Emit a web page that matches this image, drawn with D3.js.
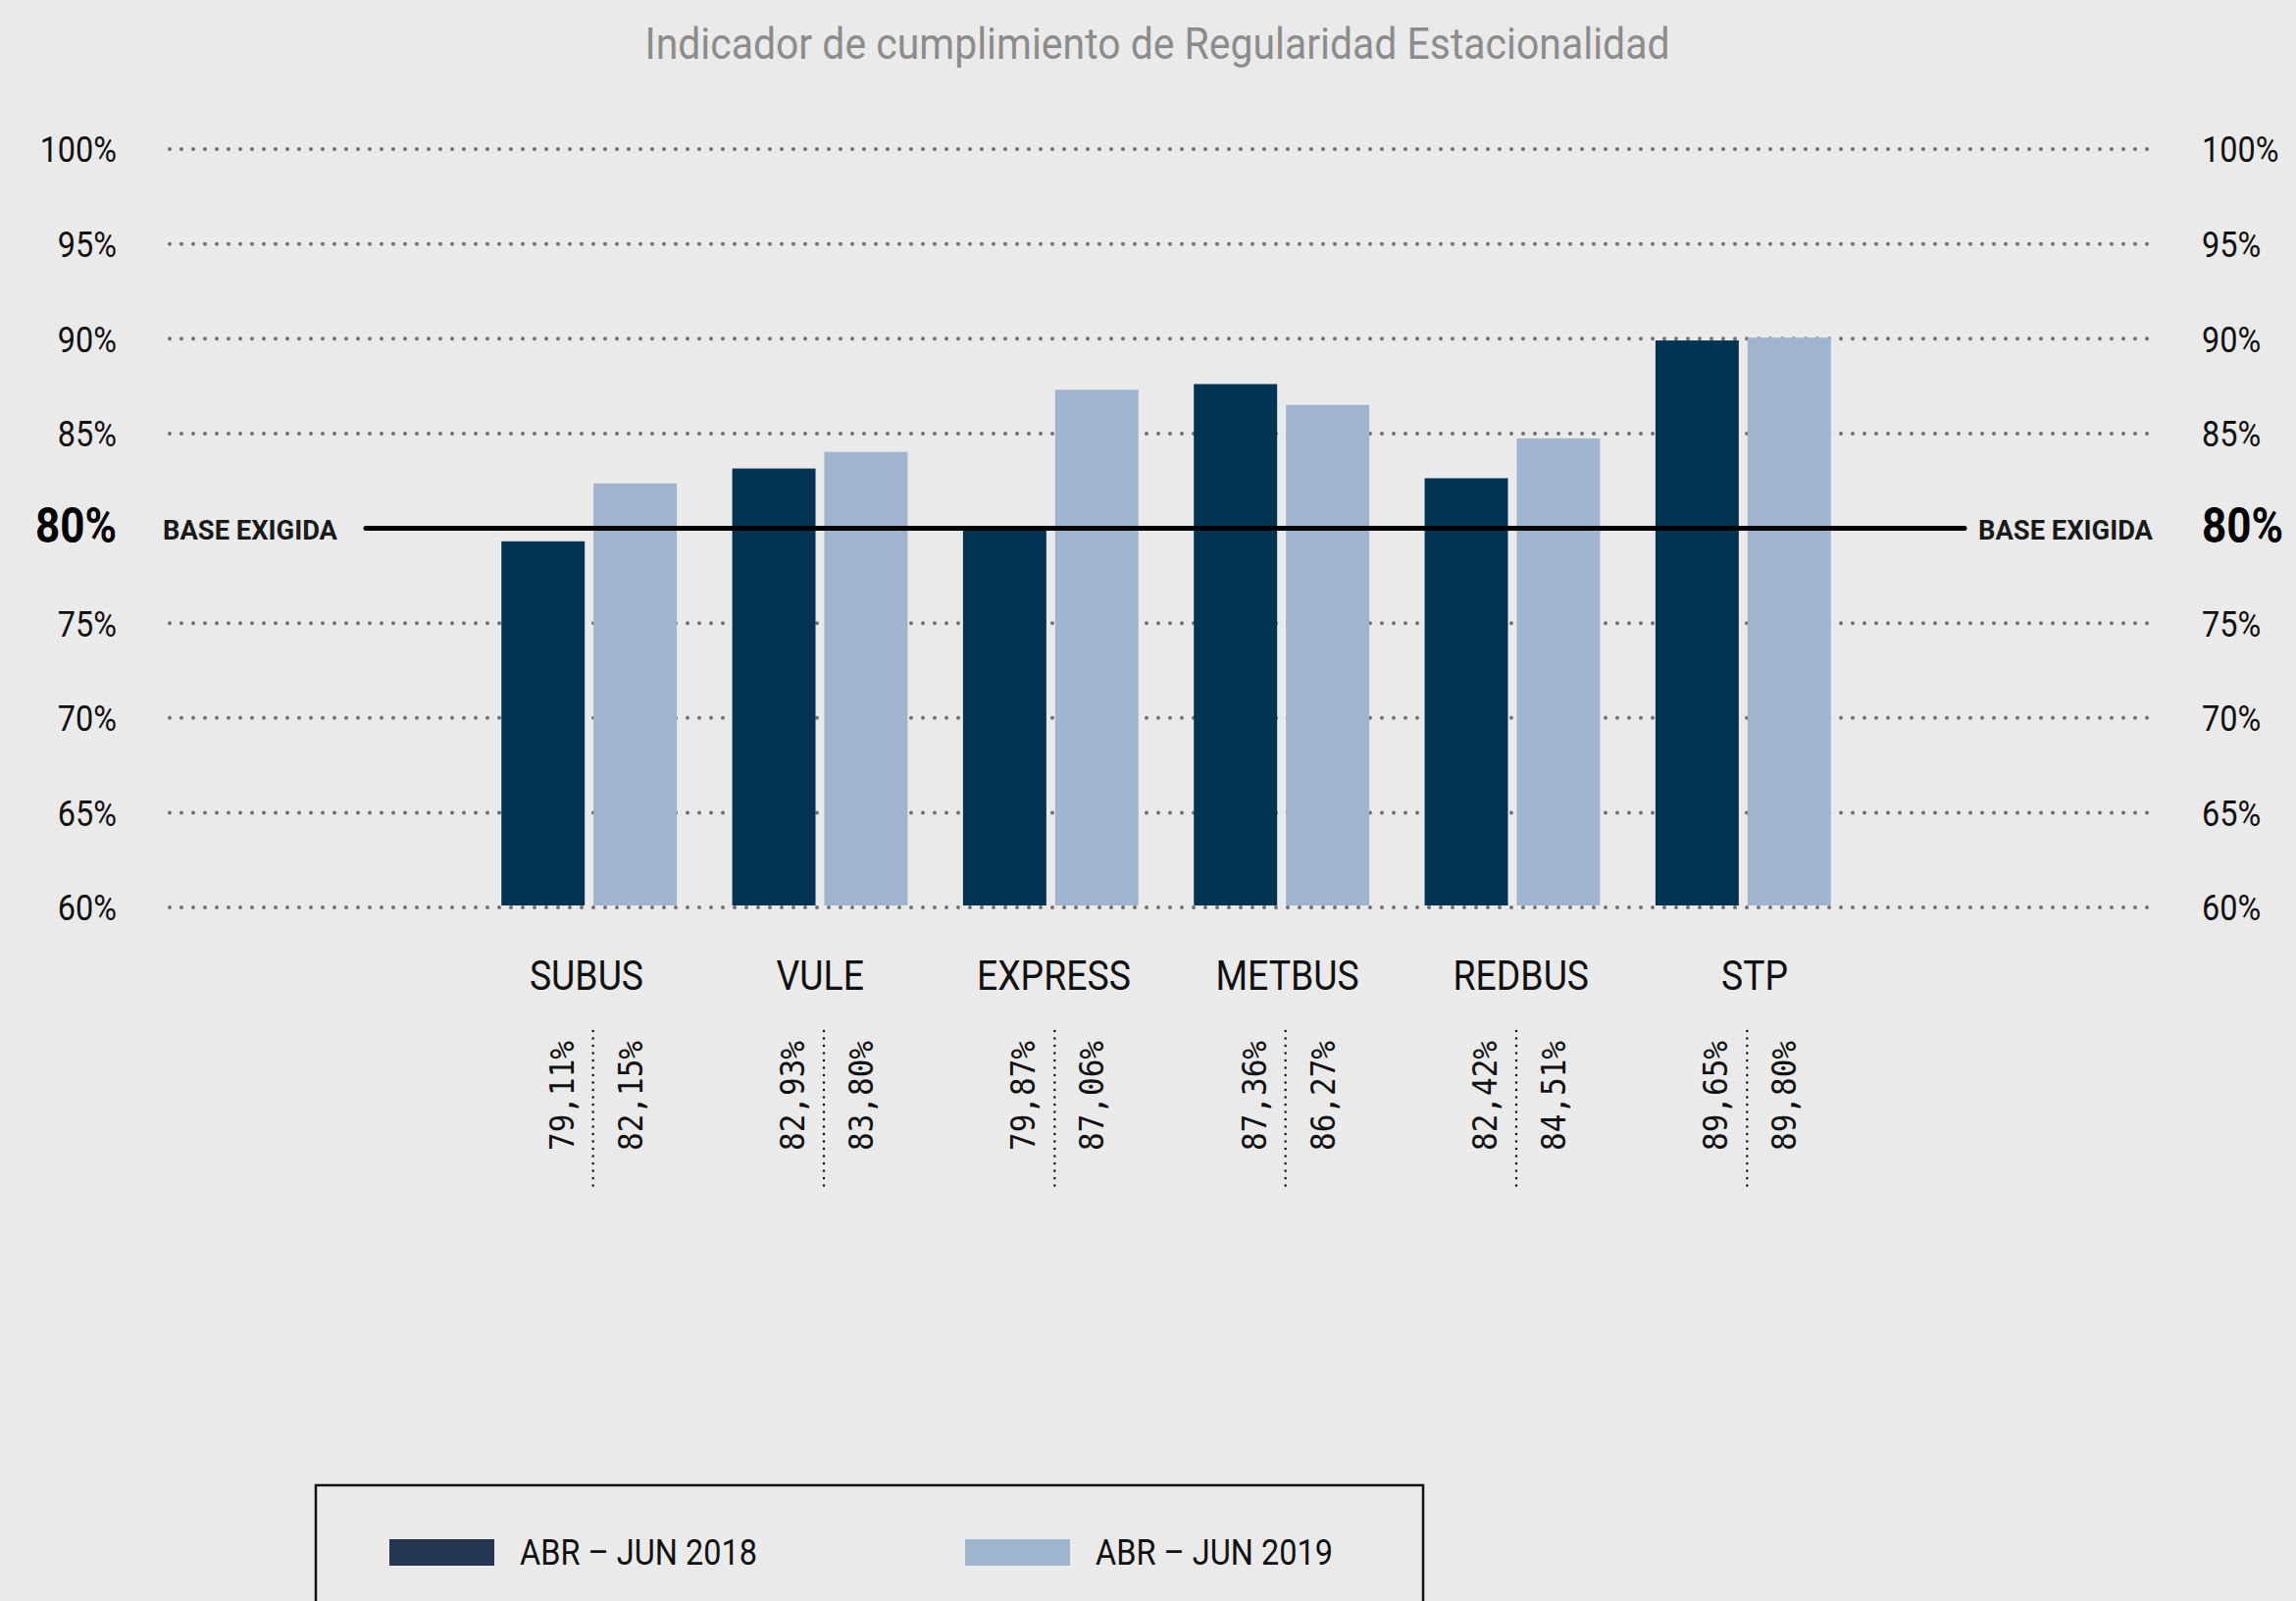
<!DOCTYPE html>
<html>
<head>
<meta charset="utf-8">
<script src="https://cdn.jsdelivr.net/npm/d3@7"></script>
<style>
  body { margin: 0; background: #eaeaea; }
  svg { display: block; }
  text { font-family: "Liberation Sans Narrow", "Roboto", sans-serif; }
</style>
</head>
<body>
<div id="chart"></div>
<script>
// data
const companies = ["SUBUS", "VULE", "EXPRESS", "METBUS", "REDBUS", "STP"];
const values2018 = [79.11, 82.93, 79.87, 87.36, 82.42, 89.65];
const values2019 = [82.15, 83.80, 87.06, 86.27, 84.51, 89.80];
const seriesNames = ["ABR – JUN 2018", "ABR – JUN 2019"];
const gridTicks = [60, 65, 70, 75, 85, 90, 95, 100];
const baseValue = 80;
const baseLabel = "BASE EXIGIDA";
const title = "Indicador de cumplimiento de Regularidad Estacionalidad";

const width = 2341;
const height = 1632;
const barColors = ["#003452", "#9fb4cf"];
const legendColors = ["#243652", "#9db5cd"];

// the original font is a condensed one, squeeze the fallback a bit
function condense(sel, factor) {
    sel.each(function() {
        const w = this.getComputedTextLength();
        d3.select(this)
            .attr("textLength", w * factor)
            .attr("lengthAdjust", "spacingAndGlyphs");
    });
}

const svg = d3.select("#chart")
    .append("svg")
    .attr("width", width)
    .attr("height", height);

svg.append("rect")
    .attr("width", width)
    .attr("height", height)
    .attr("fill", "#eaeaea");

// scales
const y = d3.scaleLinear().domain([60, 100]).range([925, 152]);
// bars sit a few px above the gridlines in the original
const yBar = d3.scaleLinear().domain([60, 100]).range([923, 146]);

const x = d3.scaleBand()
    .domain(companies)
    .range([483, 1895])
    .paddingInner(0.24)
    .paddingOuter(0.12);

const xSub = d3.scaleBand()
    .domain([0, 1])
    .range([0, x.bandwidth()])
    .paddingInner(0.0957);

// category names are spread a little wider than the bars
const xLabel = d3.scalePoint().domain(companies).range([598, 1789]);

const gridLeft = 173, gridRight = 2192;

// title
svg.append("text")
    .attr("x", 1180)
    .attr("y", 60)
    .attr("text-anchor", "middle")
    .attr("fill", "#8c8c8c")
    .style("font-size", "44px")
    .attr("textLength", 1045)
    .attr("lengthAdjust", "spacingAndGlyphs")
    .text(title);

// dotted gridlines
svg.append("g")
    .selectAll("line")
    .data(gridTicks)
    .join("line")
    .attr("x1", gridLeft)
    .attr("x2", gridRight)
    .attr("y1", d => y(d))
    .attr("y2", d => y(d))
    .attr("stroke", "#707070")
    .attr("stroke-width", 4)
    .attr("stroke-linecap", "round")
    .attr("stroke-dasharray", "0 12");

// tick labels both sides
const fmtTick = d => d + "%";
const leftAxis = d3.axisLeft(y).tickValues(gridTicks).tickFormat(fmtTick).tickSize(0).tickPadding(0);
const rightAxis = d3.axisRight(y).tickValues(gridTicks).tickFormat(fmtTick).tickSize(0).tickPadding(0);

svg.append("g").attr("transform", "translate(119,0)").call(leftAxis)
    .call(g => g.select(".domain").remove())
    .selectAll("text")
    .style("font-size", "36px")
    .style("font-family", "'Liberation Sans Narrow', Roboto, sans-serif")
    .attr("fill", "#111")
    .attr("dy", "0.36em")
    .call(condense, 0.9);

svg.append("g").attr("transform", "translate(2245,0)").call(rightAxis)
    .call(g => g.select(".domain").remove())
    .selectAll("text")
    .style("font-size", "36px")
    .style("font-family", "'Liberation Sans Narrow', Roboto, sans-serif")
    .attr("fill", "#111")
    .attr("dy", "0.36em")
    .call(condense, 0.9);

// bars
const series = [values2018, values2019];
const groups = svg.append("g")
    .selectAll("g")
    .data(companies)
    .join("g")
    .attr("transform", d => `translate(${x(d)},0)`);

groups.selectAll("rect")
    .data((d, i) => series.map((s, k) => ({ k, v: s[i] })))
    .join("rect")
    .attr("x", d => xSub(d.k))
    .attr("width", xSub.bandwidth())
    .attr("y", d => yBar(d.v))
    .attr("height", d => yBar(60) - yBar(d.v))
    .attr("fill", d => barColors[d.k]);

// base line
svg.append("line")
    .attr("x1", 373)
    .attr("x2", 2003)
    .attr("y1", y(baseValue))
    .attr("y2", y(baseValue))
    .attr("stroke", "#000")
    .attr("stroke-width", 5)
    .attr("stroke-linecap", "round");

[{ x: 119, anchor: "end" }, { x: 2245, anchor: "start" }].forEach(p => {
    svg.append("text")
        .attr("x", p.x)
        .attr("y", y(baseValue) + 14)
        .attr("text-anchor", p.anchor)
        .attr("font-weight", "bold")
        .style("font-size", "50px")
        .text(baseValue + "%")
        .call(condense, 0.88);
});

[{ x: 166 }, { x: 2017 }].forEach(p => {
    svg.append("text")
        .attr("x", p.x)
        .attr("y", y(baseValue) + 11)
        .attr("font-weight", "bold")
        .attr("fill", "#1a1a1a")
        .style("font-size", "27px")
        .attr("textLength", 178)
        .attr("lengthAdjust", "spacingAndGlyphs")
        .text(baseLabel);
});

// category labels
svg.append("g")
    .selectAll("text")
    .data(companies)
    .join("text")
    .attr("x", d => xLabel(d))
    .attr("y", 1009)
    .attr("text-anchor", "middle")
    .style("font-size", "42px")
    .attr("fill", "#111")
    .text(d => d)
    .call(condense, 0.89);

// value labels, rotated
const fmtVal = v => d3.format(".2f")(v).replace(".", ",") + "%";
const valueGroups = svg.append("g")
    .selectAll("g")
    .data(companies)
    .join("g")
    .attr("transform", d => `translate(${x(d) + x.bandwidth() / 2},0)`);

valueGroups.append("line")
    .attr("x1", 4).attr("x2", 4)
    .attr("y1", 1051).attr("y2", 1210)
    .attr("stroke", "#111")
    .attr("stroke-width", 2.5)
    .attr("stroke-linecap", "round")
    .attr("stroke-dasharray", "0 7.5");

valueGroups.selectAll("text")
    .data((d, i) => series.map((s, k) => ({ k, v: s[i] })))
    .join("text")
    .attr("transform", d => `translate(${d.k === 0 ? -16 : 54},1117) rotate(-90)`)
    .attr("text-anchor", "middle")
    .style("font-family", "'DejaVu Sans Mono', monospace")
    .style("font-size", "34px")
    .attr("fill", "#111")
    .attr("textLength", 112)
    .attr("lengthAdjust", "spacingAndGlyphs")
    .text(d => fmtVal(d.v));

// legend
const legend = svg.append("g");
legend.append("rect")
    .attr("x", 322)
    .attr("y", 1514)
    .attr("width", 1129)
    .attr("height", 200)
    .attr("fill", "none")
    .attr("stroke", "#111")
    .attr("stroke-width", 2.5);

const legendX = [397, 984];
seriesNames.forEach((name, i) => {
    legend.append("rect")
        .attr("x", legendX[i])
        .attr("y", 1569)
        .attr("width", 107)
        .attr("height", 27)
        .attr("fill", legendColors[i]);
    legend.append("text")
        .attr("x", legendX[i] + 133)
        .attr("y", 1595)
        .style("font-size", "36px")
        .attr("fill", "#111")
        .attr("textLength", 242)
        .attr("lengthAdjust", "spacingAndGlyphs")
        .text(name);
});
</script>
</body>
</html>
